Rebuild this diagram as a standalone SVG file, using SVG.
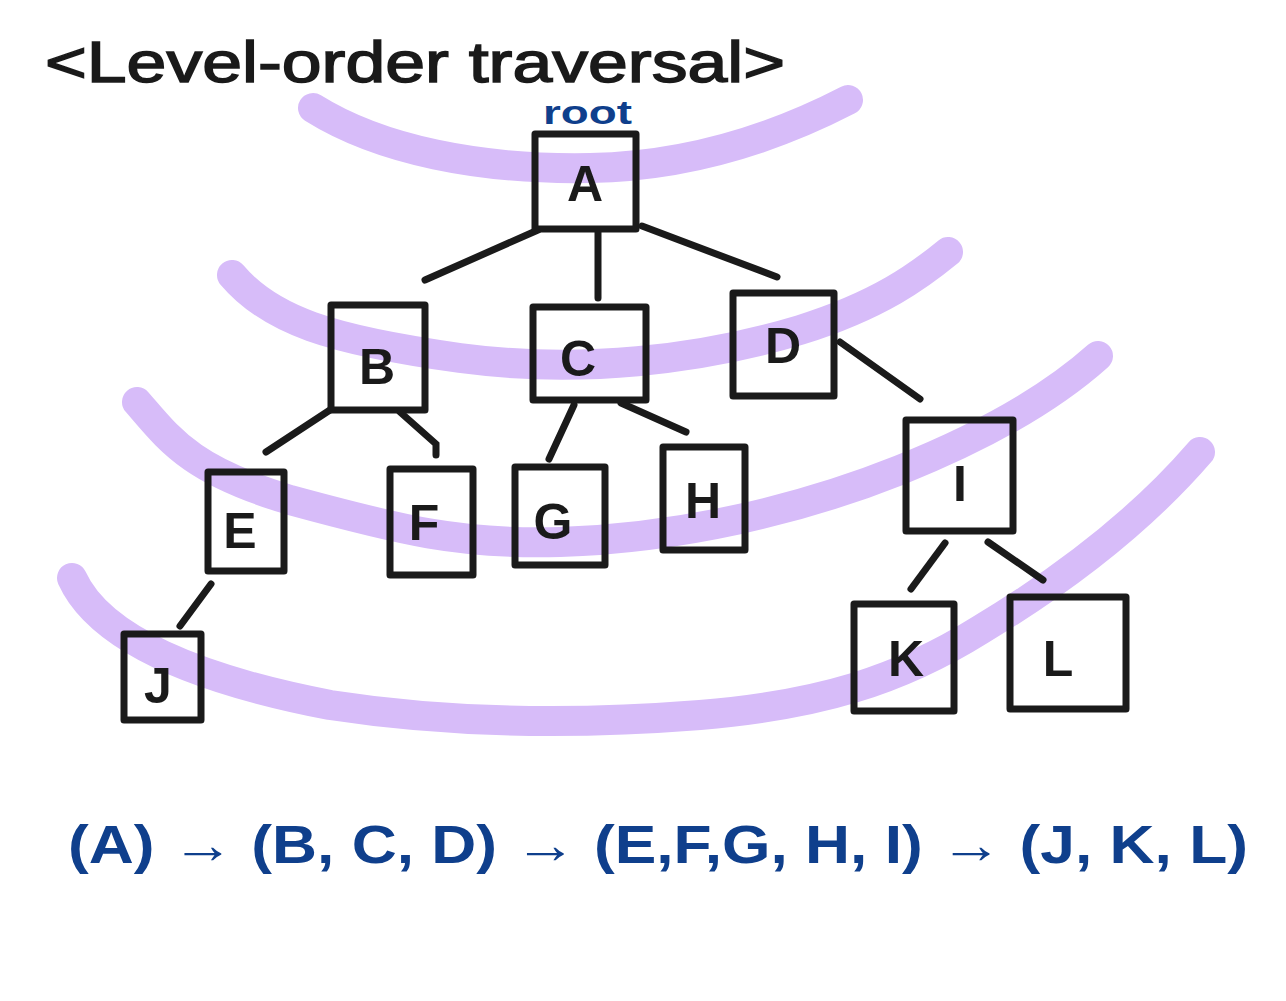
<svg xmlns="http://www.w3.org/2000/svg" width="1286" height="1001" viewBox="0 0 1286 1001">
<style>
.band{fill:none;stroke:#d7bcf9;stroke-width:30;stroke-linecap:round;stroke-linejoin:round}
.box{fill:none;stroke:#1a1a1a;stroke-width:7;stroke-linejoin:round}
.edge{stroke:#1a1a1a;stroke-width:7;stroke-linecap:round;fill:none}
.lbl{font-family:"Liberation Sans",Arial,sans-serif;font-size:50px;fill:#1a1a1a;text-anchor:middle;font-weight:bold}
.blue{font-family:"Liberation Sans",Arial,sans-serif;fill:#0f3f8c;font-weight:bold}
</style>
<rect width="1286" height="1001" fill="#ffffff"/>
<g id="bands">
<path class="band" d="M313,108 C380,150 480,170 590,168 C700,166 790,130 848,100"/>
<path class="band" d="M232,275 C270,320 330,340 460,358 C580,374 700,360 800,330 C880,305 920,275 948,252"/>
<path class="band" d="M137,402 C170,440 190,470 290,500 C400,530 460,545 560,542 C680,538 800,510 900,470 C1000,430 1060,390 1098,356"/>
<path class="band" d="M72,578 C100,640 200,680 330,705 C440,722 560,726 700,715 C820,705 900,680 980,630 C1080,570 1150,510 1200,452"/>
</g>
<g id="title"><text class="lbl" x="45" y="82" textLength="740" lengthAdjust="spacingAndGlyphs" style="font-size:58px;text-anchor:start;font-weight:normal;stroke:#1a1a1a;stroke-width:1.5">&lt;Level-order traversal&gt;</text></g>
<g id="root-label"><text class="blue" x="543" y="124" textLength="89" lengthAdjust="spacingAndGlyphs" style="font-size:34px">root</text></g>
<g id="connectors">
<line class="edge" x1="538" y1="230" x2="425" y2="280"/>
<line class="edge" x1="598" y1="232" x2="598" y2="298"/>
<line class="edge" x1="642" y1="226" x2="777" y2="277"/>
<line class="edge" x1="330" y1="410" x2="266" y2="452"/>
<polyline class="edge" points="400,412 436,444 436,455"/>
<line class="edge" x1="574" y1="405" x2="549" y2="459"/>
<line class="edge" x1="621" y1="403" x2="686" y2="432"/>
<line class="edge" x1="840" y1="342" x2="920" y2="399"/>
<line class="edge" x1="211" y1="584" x2="180" y2="626"/>
<line class="edge" x1="945" y1="543" x2="911" y2="589"/>
<line class="edge" x1="988" y1="542" x2="1043" y2="580"/>
</g>
<g id="node-A"><rect class="box" x="535" y="134" width="101" height="95"/><text class="lbl" x="585" y="201">A</text></g>
<g id="node-B"><rect class="box" x="331" y="305" width="94" height="105"/><text class="lbl" x="377" y="384">B</text></g>
<g id="node-C"><rect class="box" x="533" y="307" width="113" height="93"/><text class="lbl" x="578" y="376">C</text></g>
<g id="node-D"><rect class="box" x="733" y="293" width="101" height="103"/><text class="lbl" x="783" y="363">D</text></g>
<g id="node-E"><rect class="box" x="208" y="472" width="76" height="99"/><text class="lbl" x="240" y="548">E</text></g>
<g id="node-F"><rect class="box" x="390" y="469" width="83" height="106"/><text class="lbl" x="424" y="540">F</text></g>
<g id="node-G"><rect class="box" x="515" y="467" width="90" height="98"/><text class="lbl" x="553" y="539">G</text></g>
<g id="node-H"><rect class="box" x="663" y="447" width="82" height="103"/><text class="lbl" x="703" y="518">H</text></g>
<g id="node-I"><rect class="box" x="906" y="420" width="107" height="111"/><text class="lbl" x="960" y="501">I</text></g>
<g id="node-J"><rect class="box" x="124" y="634" width="77" height="86"/><text class="lbl" x="158" y="703">J</text></g>
<g id="node-K"><rect class="box" x="854" y="604" width="100" height="107"/><text class="lbl" x="906" y="676">K</text></g>
<g id="node-L"><rect class="box" x="1010" y="597" width="116" height="112"/><text class="lbl" x="1058" y="676">L</text></g>
<g id="sequence"><text class="blue" x="68" y="863" textLength="1180" lengthAdjust="spacingAndGlyphs" style="font-size:54px">(A) → (B, C, D) → (E,F,G, H, I) → (J, K, L)</text></g>
</svg>
